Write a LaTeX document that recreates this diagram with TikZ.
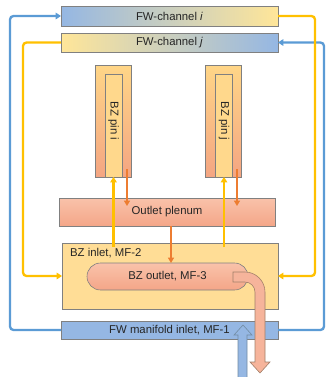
\documentclass[tikz,border=0pt]{standalone}
\usepackage{fontspec}
\setmainfont{Liberation Sans}
\usetikzlibrary{
    arrows.meta,
    calc,
    shapes.misc
}

\definecolor{fwblue}{RGB}{149,183,227}
\definecolor{fwyellow}{RGB}{255,230,153}
\definecolor{pintop}{RGB}{255,214,135}
\definecolor{pinbot}{RGB}{244,165,130}
\definecolor{pincore}{RGB}{255,216,140}
\definecolor{salmontop}{RGB}{249,194,170}
\definecolor{salmonbot}{RGB}{244,166,136}
\definecolor{inletfill}{RGB}{255,221,150}
\definecolor{boxline}{RGB}{128,128,128}
\definecolor{linkblue}{RGB}{91,155,213}
\definecolor{linkyellow}{RGB}{255,192,0}
\definecolor{linkorange}{RGB}{237,125,49}
\definecolor{flowsalmon}{RGB}{246,180,155}

\newlength\pxu
\setlength\pxu{0.3mm}

\begin{document}
\begin{tikzpicture}[
    x=0.3mm, y=-0.3mm,
    font=\fontsize{9.7}{11}\selectfont,
    box/.style={
        draw=boxline,
        line width=0.5pt,
        inner sep=0pt,
        outer sep=0pt,
        text=black!85
    },
    fwbox/.style={box, minimum width=217\pxu, minimum height=19\pxu},
    pinbox/.style={box, minimum width=36\pxu, minimum height=112\pxu,
        top color=pintop, bottom color=pinbot},
    corebox/.style={box, minimum width=17\pxu, minimum height=103\pxu,
        fill=pincore},
    salmonbox/.style={box, top color=salmontop, bottom color=salmonbot},
    blueline/.style={linkblue, line width=2pt, rounded corners=3pt,
        -{Triangle[length=4.5pt,width=5.5pt]}},
    yellowline/.style={linkyellow, line width=2pt, rounded corners=3pt,
        -{Triangle[length=4.5pt,width=5.5pt]}},
    orangeline/.style={linkorange, line width=1.6pt,
        -{Triangle[length=4.5pt,width=5pt]}}
]
\useasboundingbox (0,0) rectangle (329,377);

% First wall channels
\node[fwbox, minimum height=20\pxu, left color=fwblue, right color=fwyellow]
    (chI) at (169.5,16) {FW-channel \textit{i}};
\node[fwbox, left color=fwyellow, right color=fwblue]
    (chJ) at (169.5,42.5) {FW-channel \textit{j}};

% Breeding zone pins
\node[pinbox] (pinI) at (113,121) {};
\node[corebox] (pinIcore) at (113.5,125.5) {};
\node[rotate=-90, text=black!85] (pinIlabel) at (113.5,121) {BZ pin i};

\node[pinbox] (pinJ) at (223,121) {};
\node[corebox] (pinJcore) at (224,125.5) {};
\node[rotate=-90, text=black!85] (pinJlabel) at (224,121) {BZ pin j};

% Plenum and manifolds
\node[salmonbox, minimum width=216\pxu, minimum height=28\pxu]
    (plenum) at (167,212) {Outlet plenum};
\node[box, minimum width=216\pxu, minimum height=66\pxu, fill=inletfill]
    (inlet) at (170,276) {};
\node[anchor=west, text=black!85] (inletlabel) at (66,253) {BZ inlet, MF-2};
\node[salmonbox, rounded rectangle, minimum width=161\pxu, minimum height=27\pxu]
    (outlet) at (167.5,276.5) {BZ outlet, MF-3};
\node[fwbox, minimum height=18\pxu, fill=fwblue]
    (mf1) at (169.5,330) {FW manifold inlet, MF-1};

% Coolant loops
\draw[blueline] (mf1.west) -- ++(-51,0) |- (chI.west);
\draw[blueline] (mf1.east) -- ++(46,0) |- (chJ.east);
\draw[yellowline] (chI.east) -- ++(37,0) |- (inlet.east);
\draw[yellowline] (chJ.west) -- ++(-38,0) |- (inlet.west);

% Flow through the pins
\draw[yellowline] ($(inlet.north -| pinIcore.south)+(0,4)$) -- (pinIcore.south);
\draw[yellowline] ($(inlet.north -| pinJcore.south)+(0,4)$) -- (pinJcore.south);
\draw[orangeline] ($(pinI.south east)+(-4,-8)$) -- ($(pinI.south east |- plenum.north)+(-4,8)$);
\draw[orangeline] ($(pinJ.south east)+(-4,-8)$) -- ($(pinJ.south east |- plenum.north)+(-4,8)$);
\draw[orangeline] ($(plenum.south)+(4,0)$) -- ($(outlet.north)+(3.5,0)$);

% Outflow and inflow
\filldraw[fill=flowsalmon, draw=boxline!70!linkorange, line width=0.5pt]
    (233,272) -- (245,272) .. controls (256,272) and (265,281) .. (265,292)
    -- (265,362) -- (270,362) -- (260,373) -- (250,362) -- (255,362)
    -- (255,292) .. controls (255,286.5) and (250.5,282) .. (245,282)
    -- (233,282) -- cycle;
\filldraw[fill=fwblue, draw=boxline!60!linkblue, line width=0.5pt]
    (238,380) -- (238,335) -- (234,335) -- (243,325) -- (252,335)
    -- (247,335) -- (247,380) -- cycle;

\end{tikzpicture}
\end{document}
